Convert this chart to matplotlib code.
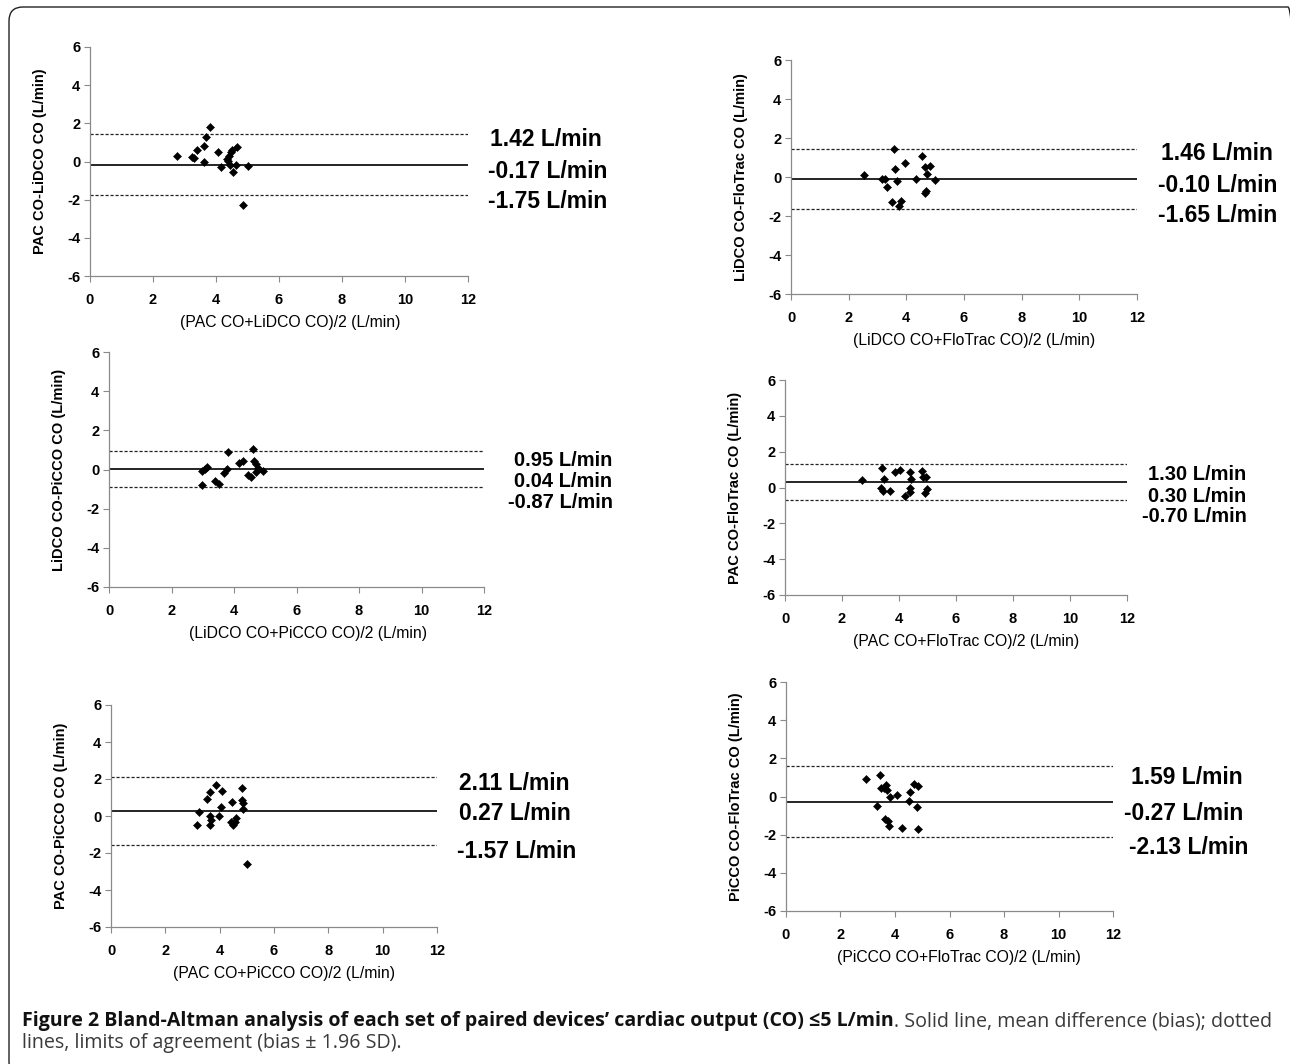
import matplotlib.pyplot as plt
from matplotlib.patches import FancyBboxPatch
from matplotlib.transforms import IdentityTransform

W, H = 1290, 1064

# --- data: (mean of pair, difference) per patient ---
pac_lidco_mean = [2.76, 3.24, 3.30, 3.41, 3.61, 3.61, 3.68, 3.81, 4.07, 4.15,
                  4.35, 4.38, 4.42, 4.44, 4.48, 4.52, 4.54, 4.62, 4.68, 5.00, 4.87]
pac_lidco_diff = [0.31, 0.26, 0.19, 0.61, 0.80, 0.00, 1.31, 1.82, 0.52, -0.31,
                  0.12, 0.05, 0.31, -0.19, 0.49, 0.61, -0.56, -0.17, 0.75, -0.24, -2.29]
pac_lidco_stats = [1.42, -0.17, -1.75]

lidco_flotrac_mean = [2.54, 3.17, 3.26, 3.33, 3.52, 3.58, 3.62, 3.69, 3.76, 3.82,
                      3.94, 4.34, 4.55, 4.64, 4.64, 4.69, 4.73, 4.83, 4.98]
lidco_flotrac_diff = [0.12, -0.12, -0.12, -0.49, -1.28, 1.43, 0.39, -0.19, -1.50, -1.23,
                      0.73, -0.09, 1.09, 0.53, -0.84, -0.73, 0.15, 0.58, -0.15]
lidco_flotrac_stats = [1.46, -0.10, -1.65]

lidco_picco_mean = [2.96, 2.99, 3.06, 3.15, 3.39, 3.52, 3.69, 3.77, 3.82, 4.17,
                    4.29, 4.46, 4.55, 4.61, 4.65, 4.71, 4.69, 4.78, 4.94]
lidco_picco_diff = [-0.09, -0.77, 0.05, 0.14, -0.60, -0.72, -0.20, 0.05, 0.87, 0.34,
                    0.43, -0.29, -0.38, 1.04, 0.44, 0.27, -0.12, 0.09, -0.09]
lidco_picco_stats = [0.95, 0.04, -0.87]

pac_flotrac_mean = [2.69, 3.36, 3.41, 3.45, 3.49, 3.68, 3.87, 4.05, 4.21, 4.39,
                    4.41, 4.39, 4.39, 4.81, 4.83, 4.90, 4.96, 4.99]
pac_flotrac_diff = [0.41, 0.00, 1.10, -0.19, 0.45, -0.19, 0.84, 1.00, -0.47, 0.84,
                    0.50, 0.00, -0.24, 0.91, 0.56, -0.33, 0.60, -0.06]
pac_flotrac_stats = [1.30, 0.30, -0.70]

pac_picco_mean = [3.15, 3.23, 3.55, 3.63, 3.63, 3.66, 3.69, 3.86, 3.97, 4.04, 4.07,
                  4.47, 4.43, 4.50, 4.55, 4.61, 4.81, 4.81, 4.85, 4.87, 5.01]
pac_picco_diff = [-0.47, 0.22, 0.90, 1.30, -0.51, -0.02, -0.20, 1.70, -0.02, 0.49, 1.37,
                  0.76, -0.32, -0.51, -0.32, -0.13, 1.52, 0.85, 0.72, 0.36, -2.58]
pac_picco_stats = [2.11, 0.27, -1.57]

picco_flotrac_mean = [2.95, 3.35, 3.45, 3.49, 3.59, 3.62, 3.66, 3.69, 3.75, 3.78,
                      3.82, 4.09, 4.25, 4.53, 4.56, 4.69, 4.79, 4.85, 4.85]
picco_flotrac_diff = [0.91, -0.49, 1.14, 0.44, 0.44, -1.17, 0.58, 0.32, -1.31, -1.54,
                      0.00, 0.09, -1.66, -0.26, 0.26, 0.67, -0.53, 0.56, -1.70]
picco_flotrac_stats = [1.59, -0.27, -2.13]

y_labels = ["PAC CO-LiDCO CO (L/min)", "LiDCO CO-FloTrac CO (L/min)",
            "LiDCO CO-PiCCO CO (L/min)", "PAC CO-FloTrac CO (L/min)",
            "PAC CO-PiCCO CO (L/min)", "PiCCO CO-FloTrac CO (L/min)"]
x_labels = ["(PAC CO+LiDCO CO)/2 (L/min)", "(LiDCO CO+FloTrac CO)/2 (L/min)",
            "(LiDCO CO+PiCCO CO)/2 (L/min)", "(PAC CO+FloTrac CO)/2 (L/min)",
            "(PAC CO+PiCCO CO)/2 (L/min)", "(PiCCO CO+FloTrac CO)/2 (L/min)"]

panels = [
    (pac_lidco_mean, pac_lidco_diff, pac_lidco_stats),
    (lidco_flotrac_mean, lidco_flotrac_diff, lidco_flotrac_stats),
    (lidco_picco_mean, lidco_picco_diff, lidco_picco_stats),
    (pac_flotrac_mean, pac_flotrac_diff, pac_flotrac_stats),
    (pac_picco_mean, pac_picco_diff, pac_picco_stats),
    (picco_flotrac_mean, picco_flotrac_diff, picco_flotrac_stats),
]

# --- layout in pixels: axes box (left, right, top, bottom), stat text anchors ---
boxes = [(90, 468, 47, 276), (791, 1137, 60, 294),
         (109, 484, 352, 587), (785, 1127, 380, 595),
         (111, 437, 705, 927), (786, 1113, 682, 911)]
text_pos = [[(490, 140), (488, 171), (488, 201)],
            [(1161, 153), (1158, 186), (1158, 215)],
            [(514, 461), (514, 482), (508, 503)],
            [(1148, 475), (1148, 496), (1142, 517)],
            [(459, 784), (459, 813), (457, 852)],
            [(1131, 778), (1124, 813), (1129, 848)]]
text_size = [16.5, 16.5, 14.5, 14.5, 16.5, 16.5]

plt.rcParams['font.family'] = ['Liberation Sans', 'DejaVu Sans']
plt.rcParams['axes.unicode_minus'] = False

fig = plt.figure(figsize=(W / 100, H / 100), dpi=100)

for i, (means, diffs, stats) in enumerate(panels):
    l, r, t, b = boxes[i]
    ax = fig.add_axes([l / W, 1 - b / H, (r - l) / W, (b - t) / H])
    ax.plot(means, diffs, 'D', ms=4, color='black', mec='black', mew=0.4, zorder=3)
    upper, bias, lower = stats
    ax.axhline(bias, color='black', lw=1.2)
    for lim in (upper, lower):
        ax.axhline(lim, color='#222222', lw=0.9, ls=(0, (2.5, 1.5)))
    ax.set_xlim(0, 12)
    ax.set_ylim(-6, 6)
    ax.set_xticks(range(0, 13, 2))
    ax.set_yticks(range(-6, 7, 2))
    for side in ('top', 'right'):
        ax.spines[side].set_visible(False)
    for side in ('left', 'bottom'):
        ax.spines[side].set_color('#8a8a8a')
        ax.spines[side].set_linewidth(0.9)
    ax.tick_params(direction='out', length=4, width=0.8, color='#8a8a8a',
                   labelsize=10.5, pad=3)
    ax.tick_params(axis='x', pad=8)
    for lab in ax.get_xticklabels() + ax.get_yticklabels():
        lab.set_fontweight('bold')
    ax.set_ylabel(y_labels[i], fontsize=10.5, fontweight='bold')
    ax.yaxis.set_label_coords(-43 / (r - l), 0.5)
    ax.set_xlabel(x_labels[i], fontsize=11.3)
    ax.xaxis.set_label_coords(0.53, -39 / (b - t))

    for (tx, ty), val in zip(text_pos[i], stats):
        fig.text(tx / W, 1 - ty / H, f"{val:.2f} L/min", fontsize=text_size[i],
                 fontweight='bold', ha='left', va='center')

# frame around figure (pixel coords, origin bottom-left)
frame = FancyBboxPatch((9, -12), 1302 - 9, H - 7 + 12,
                       boxstyle="round,pad=0,rounding_size=14",
                       transform=IdentityTransform(), fill=False,
                       edgecolor='#222222', lw=1.0, clip_on=False)
fig.add_artist(frame)

# caption
cap_font = ['Open Sans', 'DejaVu Sans']
cap_bold = ("Figure 2 Bland-Altman analysis of each set of paired devices\u2019 "
            "cardiac output (CO) \u22645 L/min")
cap_rest = ". Solid line, mean difference (bias); dotted"
cap_line2 = "lines, limits of agreement (bias \u00b1 1.96 SD)."
cap_size = 14.1

t1 = fig.text(22 / W, 1 - 1021 / H, cap_bold, fontsize=cap_size, fontweight='bold',
              family=cap_font, color='#111111', va='center', ha='left')
fig.canvas.draw()
bb = t1.get_window_extent()
fig.text(bb.x1 / W, 1 - 1021 / H, cap_rest, fontsize=cap_size,
         family=cap_font, color='#3a3a3a', va='center', ha='left')
fig.text(22 / W, 1 - 1043 / H, cap_line2, fontsize=cap_size,
         family=cap_font, color='#3a3a3a', va='center', ha='left')

fig.savefig('out.png', dpi=100)
